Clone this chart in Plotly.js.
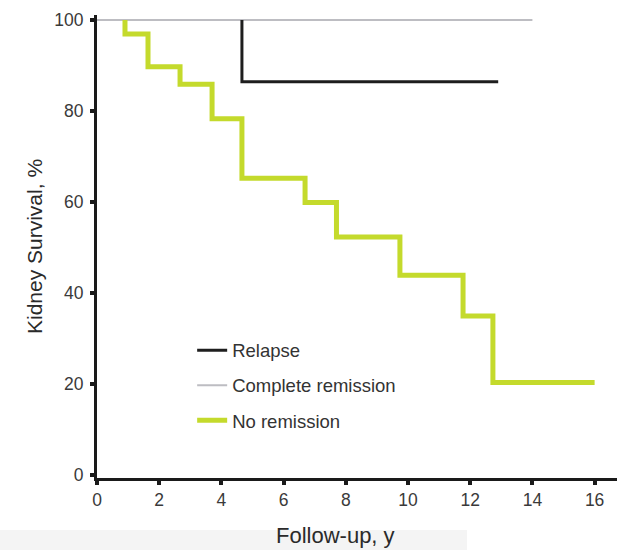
<!DOCTYPE html>
<html><head><meta charset="utf-8">
<script src="https://cdn.plot.ly/plotly-3.0.1.min.js"></script>
<style>html,body{margin:0;padding:0;background:#fff}#chart{width:617px;height:550px}</style>
</head><body><div id="chart"></div>
<script>
// Data (Kaplan-Meier step curves)
const relapseX = [4.66, 4.66, 12.9];
const relapseY = [100, 86.4, 86.4];
const completeX = [0, 14.0];
const completeY = [100, 100];
const noRemX = [0.9, 0.9, 1.64, 1.64, 2.67, 2.67, 3.7, 3.7, 4.66, 4.66, 6.69, 6.69, 7.7, 7.7, 9.74, 9.74, 11.77, 11.77, 12.73, 12.73, 16.0];
const noRemY = [100, 96.9, 96.9, 89.7, 89.7, 85.9, 85.9, 78.3, 78.3, 65.2, 65.2, 59.9, 59.9, 52.3, 52.3, 43.9, 43.9, 34.9, 34.9, 20.3, 20.3];
const xTicks = [0, 2, 4, 6, 8, 10, 12, 14, 16];
const yTicks = [0, 20, 40, 60, 80, 100];
const xTitle = 'Follow-up, y';
const yTitle = 'Kidney Survival, %';

const traces = [
  {x: completeX, y: completeY, mode: 'lines', name: 'Complete remission', legendgroup: 'b', line: {color: '#bdbdc2', width: 2}, legendrank: 2},
  {x: relapseX, y: relapseY, mode: 'lines', name: 'Relapse', legendgroup: 'a', line: {color: '#1e1e1e', width: 3}, legendrank: 1},
  {x: noRemX, y: noRemY, mode: 'lines', name: 'No remission', legendgroup: 'c', line: {color: '#c4da2c', width: 5}, legendrank: 3}
];

const layout = {
  width: 617, height: 550,
  margin: {l: 97, r: 0, t: 15, b: 72},
  paper_bgcolor: '#fff', plot_bgcolor: '#fff',
  font: {family: 'Liberation Sans, Arial, sans-serif', color: '#3a3a3a'},
  showlegend: true,
  legend: {x: 0.183, y: 0.316, xanchor: 'left', yanchor: 'top', font: {size: 18.5, color: '#333'}, bgcolor: 'rgba(0,0,0,0)', tracegroupgap: 8, traceorder: 'grouped'},
  xaxis: {
    range: [0, 16.72], tickvals: xTicks, ticktext: xTicks.map(String),
    showgrid: false, zeroline: false, showline: true, linecolor: '#1a1a1a', linewidth: 3,
    ticks: 'outside', ticklen: 4, tickwidth: 4, tickcolor: '#1a1a1a',
    tickfont: {size: 17.5, color: '#3a3a3a'}
  },
  yaxis: {
    range: [-0.7, 101.1], tickvals: yTicks, ticktext: yTicks.map(String),
    showgrid: false, zeroline: false, showline: true, linecolor: '#1a1a1a', linewidth: 3,
    ticks: 'outside', ticklen: 4, tickwidth: 4, tickcolor: '#1a1a1a', ticklabelstandoff: 3,
    tickfont: {size: 17.5, color: '#3a3a3a'},
    title: {text: yTitle, font: {size: 21, color: '#2a2a2a'}, standoff: 6}
  },
  annotations: [
    {text: xTitle, xref: 'paper', yref: 'paper', x: (335-97)/520, y: (478-535)/463, xanchor: 'center', yanchor: 'middle', showarrow: false, font: {size: 22, color: '#2a2a2a'}}
  ],
  shapes: [
    {type: 'rect', xref: 'paper', yref: 'paper', x0: -97/520, x1: (467-97)/520, y0: -72/463, y1: -52/463, fillcolor: '#f4f4f4', line: {width: 0}, layer: 'below'}
  ]
};

Plotly.newPlot('chart', traces, layout, {displayModeBar: false, staticPlot: true});
</script></body></html>
